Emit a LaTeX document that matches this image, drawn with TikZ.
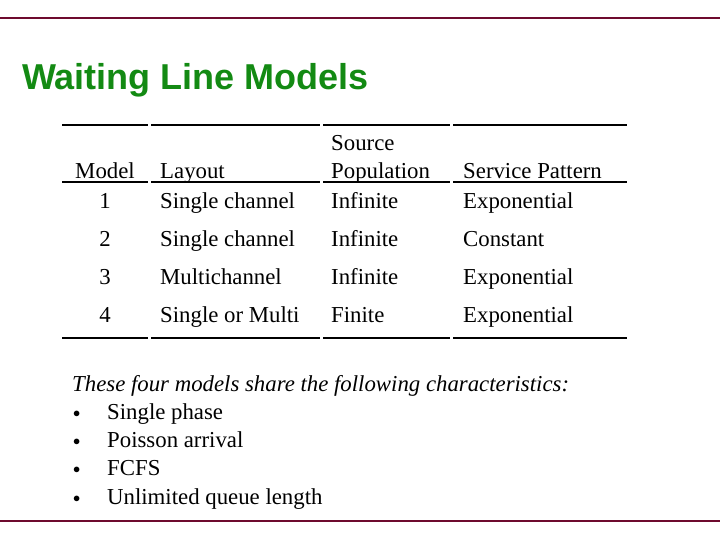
\documentclass[tikz,border=0pt]{standalone}
\usepackage{fontspec}
\setmainfont{Liberation Serif}
\newfontfamily\titlefont{Liberation Sans}
\usetikzlibrary{positioning}
\definecolor{Maroon}{HTML}{6E0A2E}
\definecolor{TitleGreen}{HTML}{138A13}
\tikzset{
    % body text in pixel-like sizes
    body_text/.style={inner sep=0pt, anchor=base west, font=\fontsize{22.8}{26}\selectfont},
    center_text/.style={body_text, anchor=base},
    table_rule/.style={draw=black, line width=1.2pt},
    frame_rule/.style={draw=Maroon, line width=2pt}
}
\begin{document}
\begin{tikzpicture}[x=1pt, y=-1pt]
    \useasboundingbox (0,0) rectangle (720,540);

    % --- FRAME ---
    \draw[frame_rule] (0,18) -- (720,18);
    \draw[frame_rule] (0,521) -- (720,521);

    % --- TITLE ---
    \node[inner sep=0pt, anchor=base west, text=TitleGreen,
          font=\titlefont\bfseries\fontsize{36}{40}\selectfont] (title) at (22,90) {Waiting Line Models};

    % --- TABLE RULES ---
    \foreach \y in {125,182,338} {
        \draw[table_rule] (62,\y) -- (148,\y);
        \draw[table_rule] (151,\y) -- (320,\y);
        \draw[table_rule] (323,\y) -- (450,\y);
        \draw[table_rule] (453,\y) -- (627,\y);
    }

    % --- HEADER ---
    \node[center_text] (h_model) at (105,179) {Model};
    \node[body_text] (h_layout) at (160,179) {Layout};
    \node[body_text] (h_source) at (331,151) {Source};
    \node[body_text] (h_pop) at (331,179) {Population};
    \node[body_text] (h_service) at (463,179) {Service Pattern};

    % --- ROWS ---
    \foreach \n/\lay/\src/\srv [count=\i] in {1/Single channel/Infinite/Exponential,
                                            2/Single channel/Infinite/Constant,
                                            3/Multichannel/Infinite/Exponential,
                                            4/Single or Multi/Finite/Exponential} {
        \pgfmathsetmacro{\yy}{170+38*\i}
        \node[center_text] (num\i) at (105,\yy) {\n};
        \node[body_text] (lay\i) at (160,\yy) {\lay};
        \node[body_text] (src\i) at (331,\yy) {\src};
        \node[body_text] (srv\i) at (463,\yy) {\srv};
    }

    % --- CHARACTERISTICS ---
    \node[body_text, font=\itshape\fontsize{22.8}{26}\selectfont] (note) at (72,391) {These four models share the following characteristics:};
    \foreach \txt [count=\i] in {Single phase, Poisson arrival, FCFS, Unlimited queue length} {
        \pgfmathsetmacro{\yy}{391+28.3*\i}
        \node[body_text, font=\fontsize{15}{18}\selectfont] (dot\i) at (73,\yy-2) {$\bullet$};
        \node[body_text] (item\i) at (107,\yy) {\txt};
    }
\end{tikzpicture}
\end{document}
